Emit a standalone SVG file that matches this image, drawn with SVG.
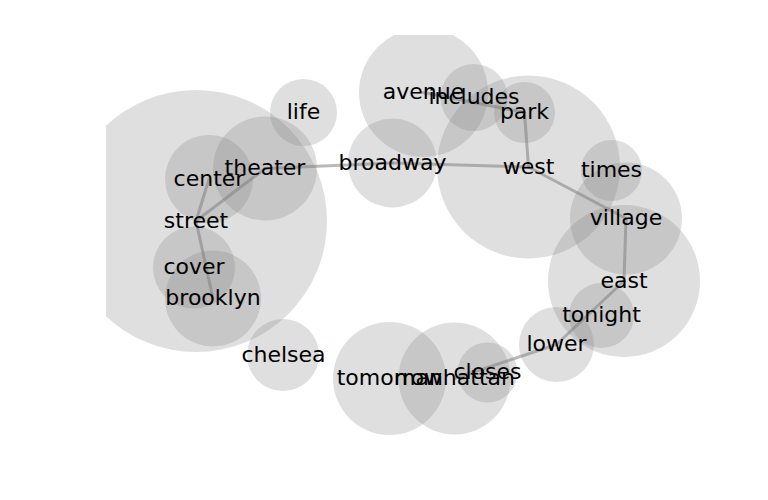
<svg xmlns="http://www.w3.org/2000/svg" width="768" height="500" viewBox="0 0 768 500">
<defs>
<clipPath id="ax"><rect x="106" y="35" width="610" height="440"/></clipPath>
<style>
.b{fill:#808080;fill-opacity:0.25;stroke:none}
.l{stroke:#808080;stroke-opacity:0.55;stroke-width:3;fill:none;stroke-linecap:round}
text{font-family:"DejaVu Sans","Liberation Sans",sans-serif;font-size:22px;fill:#000;text-anchor:middle}
</style>
</defs>
<rect width="768" height="500" fill="#fff"/>
<g clip-path="url(#ax)">
<g id="bubbles">
<circle id="street-bubble" class="b" cx="196" cy="221" r="131"/>
<circle id="life-bubble" class="b" cx="303.5" cy="112.5" r="33.5"/>
<circle id="theater-bubble" class="b" cx="265" cy="168.5" r="52"/>
<circle id="center-bubble" class="b" cx="209" cy="179" r="44"/>
<circle id="cover-bubble" class="b" cx="194" cy="267.5" r="41"/>
<circle id="brooklyn-bubble" class="b" cx="213" cy="298.5" r="48"/>
<circle id="chelsea-bubble" class="b" cx="283" cy="355" r="36"/>
<circle id="broadway-bubble" class="b" cx="392.5" cy="163" r="44.5"/>
<circle id="avenue-bubble" class="b" cx="423.5" cy="92.5" r="64.5"/>
<circle id="includes-bubble" class="b" cx="474" cy="97.5" r="33.5"/>
<circle id="park-bubble" class="b" cx="524.5" cy="112.5" r="30.5"/>
<circle id="west-bubble" class="b" cx="528.5" cy="167" r="91.5"/>
<circle id="times-bubble" class="b" cx="611.5" cy="170.5" r="30.5"/>
<circle id="village-bubble" class="b" cx="626" cy="218.5" r="56"/>
<circle id="east-bubble" class="b" cx="624" cy="281" r="76"/>
<circle id="tonight-bubble" class="b" cx="601.5" cy="315.5" r="32.5"/>
<circle id="lower-bubble" class="b" cx="556.5" cy="344.5" r="37.5"/>
<circle id="tomorrow-bubble" class="b" cx="389.5" cy="378.5" r="56.5"/>
<circle id="manhattan-bubble" class="b" cx="454.5" cy="378.5" r="56"/>
<circle id="closes-bubble" class="b" cx="487.5" cy="372.5" r="30"/>
</g>
<g id="connectors">
<line class="l" x1="209" y1="179" x2="196" y2="221"/>
<line class="l" x1="265" y1="168.5" x2="196" y2="221"/>
<line class="l" x1="196" y1="221" x2="213" y2="298.5"/>
<line class="l" x1="265" y1="168.5" x2="392.5" y2="163"/>
<line class="l" x1="392.5" y1="163" x2="528.5" y2="167"/>
<line class="l" x1="423.5" y1="92.5" x2="524.5" y2="112.5"/>
<line class="l" x1="524.5" y1="112.5" x2="528.5" y2="167"/>
<line class="l" x1="528.5" y1="167" x2="626" y2="218.5"/>
<line class="l" x1="626" y1="218.5" x2="624" y2="281"/>
<line class="l" x1="624" y1="281" x2="556.5" y2="344.5"/>
<line class="l" x1="556.5" y1="344.5" x2="454.5" y2="378.5"/>
</g>
<g id="street"><text x="196" y="227.5">street</text></g>
<g id="life"><text x="303.5" y="119">life</text></g>
<g id="theater"><text x="265" y="175">theater</text></g>
<g id="center"><text x="209" y="185.5">center</text></g>
<g id="cover"><text x="194" y="274">cover</text></g>
<g id="brooklyn"><text x="213" y="305">brooklyn</text></g>
<g id="chelsea"><text x="283.5" y="361.5">chelsea</text></g>
<g id="broadway"><text x="392.5" y="169.5">broadway</text></g>
<g id="avenue"><text x="423.5" y="99">avenue</text></g>
<g id="includes"><text x="474" y="104">includes</text></g>
<g id="park"><text x="524.5" y="119">park</text></g>
<g id="west"><text x="528.5" y="173.5">west</text></g>
<g id="times"><text x="611.5" y="177">times</text></g>
<g id="village"><text x="626" y="225">village</text></g>
<g id="east"><text x="624" y="287.5">east</text></g>
<g id="tonight"><text x="601.5" y="322">tonight</text></g>
<g id="lower"><text x="556.5" y="351">lower</text></g>
<g id="tomorrow"><text x="389.5" y="385">tomorrow</text></g>
<g id="manhattan"><text x="454.5" y="385">manhattan</text></g>
<g id="closes"><text x="487.5" y="379">closes</text></g>
</g>
</svg>
